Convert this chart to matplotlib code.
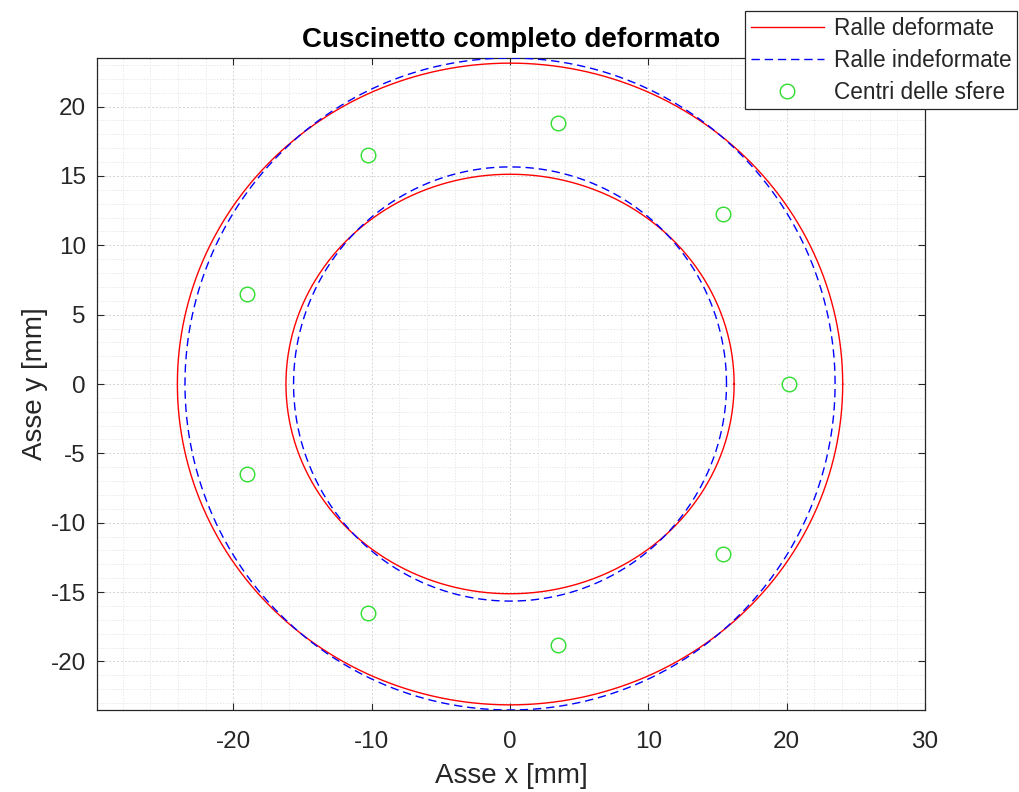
import numpy as np
import matplotlib
matplotlib.use("Agg")
import matplotlib.pyplot as plt
from matplotlib.ticker import MultipleLocator

plt.rcParams['font.family'] = ['Liberation Sans', 'DejaVu Sans']
plt.rcParams['axes.unicode_minus'] = False

# --- data ---
# deformed races: semi-axes (x, y) in mm
outer_deformed = (24.05, 23.13)
inner_deformed = (16.20, 15.12)
# undeformed races: radii in mm
outer_undeformed = 23.50
inner_undeformed = 15.65
# ball centres (mm)
ball_x = [20.17, 15.42, 3.49, -10.24, -19.04, -19.04, -10.24, 3.49, 15.42]
ball_y = [0.00, 12.24, 18.80, 16.51, 6.49, -6.49, -16.51, -18.80, -12.24]

title = "Cuscinetto completo deformato"
xlabel = "Asse x [mm]"
ylabel = "Asse y [mm]"
labels = ["Ralle deformate", "Ralle indeformate", "Centri delle sfere"]
xticks = [-20, -10, 0, 10, 20, 30]
yticks = [-20, -15, -10, -5, 0, 5, 10, 15, 20]

t = np.linspace(0, 2 * np.pi, 721)

fig = plt.figure(figsize=(10.19, 7.92), dpi=100)
ax = fig.add_axes([97 / 1019, 82 / 792, 828 / 1019, 652 / 792])

dark = '#262626'
red = '#ff0000'
blue = '#0000ff'
green = '#30dd30'

l1, = ax.plot(outer_deformed[0] * np.cos(t), outer_deformed[1] * np.sin(t),
              color=red, lw=1.0, zorder=3)
ax.plot(inner_deformed[0] * np.cos(t), inner_deformed[1] * np.sin(t),
        color=red, lw=1.0, zorder=3)
l2, = ax.plot(outer_undeformed * np.cos(t), outer_undeformed * np.sin(t),
              color=blue, lw=1.0, dashes=(6, 3.5), zorder=3)
ax.plot(inner_undeformed * np.cos(t), inner_undeformed * np.sin(t),
        color=blue, lw=1.0, dashes=(6, 3.5), zorder=3)
l3, = ax.plot(ball_x, ball_y, 'o', mfc='none', mec=green, ms=10.5, mew=1.0,
              ls='none', zorder=4)

ax.set_xlim(-29.86, 30.0)
ax.set_ylim(-23.5, 23.5)
ax.set_xticks(xticks)
ax.set_yticks(yticks)
ax.xaxis.set_minor_locator(MultipleLocator(2))
ax.yaxis.set_minor_locator(MultipleLocator(1))

ax.grid(True, which='major', color='#d4d4d4', lw=0.7, ls=(0, (2, 2)))
ax.grid(True, which='minor', color='#e2e2e2', lw=0.6, ls=(0, (1.5, 2)))
ax.set_axisbelow(True)

ax.tick_params(which='major', direction='in', length=5, width=0.8, color=dark,
               top=True, right=True, labelsize=17.5, labelcolor=dark)
ax.tick_params(axis='x', which='major', pad=15)
ax.tick_params(axis='y', which='major', pad=8)
ax.tick_params(which='minor', length=0, top=True, right=True)
for s in ax.spines.values():
    s.set_color(dark)
    s.set_linewidth(0.9)

ax.set_xlabel(xlabel, fontsize=20, color=dark, labelpad=7)
ax.set_ylabel(ylabel, fontsize=20, color=dark, labelpad=2)
ax.set_title(title, fontsize=20, fontweight='bold', color='black', pad=8)

leg = fig.legend([l1, l2, l3], labels, loc='upper right',
                 bbox_to_anchor=(1017 / 1019, 1 - 11 / 792),
                 fontsize=16.3, frameon=True, fancybox=False, framealpha=1,
                 edgecolor=dark, handlelength=3.2, handletextpad=0.45,
                 labelspacing=0.4, borderpad=0.25, borderaxespad=0)
leg.get_frame().set_linewidth(0.9)
for txt in leg.get_texts():
    txt.set_color(dark)

fig.savefig('out.png', dpi=100)
